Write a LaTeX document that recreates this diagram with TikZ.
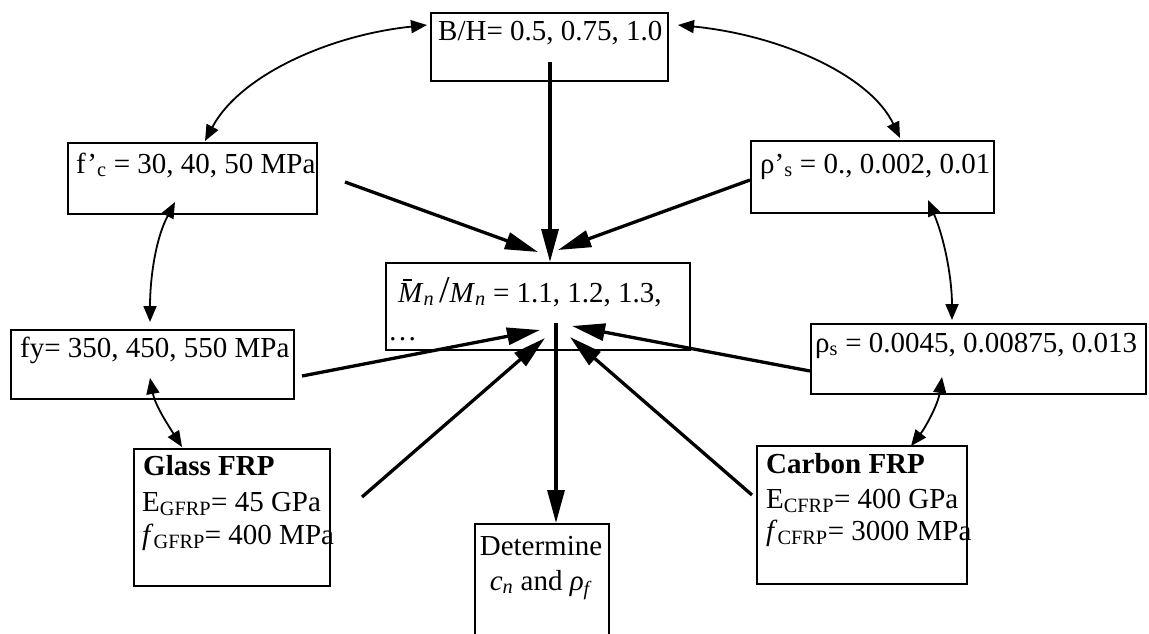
\documentclass[tikz,border=0pt]{standalone}
\usepackage{fontspec}
\setmainfont{Liberation Serif}
\usetikzlibrary{arrows.meta}
\newcommand{\barM}{\rlap{\hspace{5pt}\raisebox{21.5pt}{\rule{9pt}{1.3pt}}}\textit{M}}
\begin{document}
\begin{tikzpicture}[x=1pt,y=-1pt,
  box/.style={draw, line width=1.6pt, inner sep=0pt, anchor=north west},
  txt/.style={inner sep=0pt, anchor=base west, font=\fontsize{29}{34}\selectfont},
  ctxt/.style={inner sep=0pt, anchor=base, font=\fontsize{29}{34}\selectfont},
  thk/.style={line width=3.3pt, -{Triangle[length=33pt,width=17pt]}},
  dbl/.style={line width=1.8pt, {Triangle[length=16pt,width=13pt]}-{Triangle[length=16pt,width=13pt]}}
]
\clip (0,0) rectangle (1149,633);
\fill[white] (0,0) rectangle (1149,633);
% boxes
\node[box, minimum width=237pt, minimum height=68pt] (bh) at (430,12) {};
\node[box, minimum width=249pt, minimum height=71pt] (fc) at (67,142) {};
\node[box, minimum width=243pt, minimum height=72pt] (rps) at (750,140) {};
\node[box, minimum width=304pt, minimum height=87pt] (mn) at (385,262) {};
\node[box, minimum width=283pt, minimum height=69pt] (fy) at (10,329) {};
\node[box, minimum width=335pt, minimum height=70pt] (rs) at (810,323) {};
\node[box, minimum width=196pt, minimum height=137pt] (gl) at (133,448) {};
\node[box, minimum width=210pt, minimum height=138pt] (cb) at (756,445) {};
\node[box, minimum width=134pt, minimum height=140pt] (det) at (474,523) {};
% texts
\node[txt] (tbh) at (438,40) {B/H= 0.5, 0.75, 1.0};
\node[txt] (tfc) at (76,173) {f’\textsubscript{c} = 30, 40, 50 MPa};
\node[txt] (trps) at (760,173) {ρ’\textsubscript{s} = 0., 0.002, 0.01};
\node[txt] (tmn) at (398,302) {\barM\textsubscript{\textit{n}}\,{\fontsize{38}{38}\selectfont /}\textit{M}\textsubscript{\textit{n}} = 1.1, 1.2, 1.3,};
\node[txt] (tdots) at (388,340) {…};
\node[txt] (tfy) at (20,357) {fy= 350, 450, 550 MPa};
\node[txt] (trs) at (815,352) {ρ\textsubscript{s} = 0.0045, 0.00875, 0.013};
\node[txt] (tg1) at (143,475) {\textbf{Glass FRP}};
\node[txt] (tg2) at (142,511) {E\textsubscript{GFRP}= 45 GPa};
\node[txt] (tg3) at (142,544) {\textit{f}\textsubscript{GFRP}= 400 MPa};
\node[txt] (tc1) at (766,473) {\textbf{Carbon FRP}};
\node[txt] (tc2) at (766,508) {E\textsubscript{CFRP}= 400 GPa};
\node[txt] (tc3) at (766,540) {\textit{f}\textsubscript{CFRP}= 3000 MPa};
\node[ctxt] (td1) at (541,555) {Determine};
\node[ctxt] (td2) at (541,590) {\textit{c}\textsubscript{\textit{n}} and \textit{ρ}\textsubscript{\textit{f}}};
% connector ends
\coordinate (bhout) at (550,62);
\coordinate (fcout) at (345,182);
\coordinate (fcin) at (538,252);
\coordinate (rpsout) at (750,180);
\coordinate (rpsin) at (558,250);
\coordinate (fyout) at (302,376);
\coordinate (fyin) at (540,330);
\coordinate (rsout) at (810,371);
\coordinate (rsin) at (572,326);
\coordinate (glout) at (362,497);
\coordinate (glin) at (545,338);
\coordinate (cbout) at (752,495);
\coordinate (cbin) at (570,337);
\coordinate (mnout) at (556,323);
% straight arrows
\draw[thk] (bhout) -- (bhout |- mn.north);
\draw[thk] (fcout) -- (fcin);
\draw[thk] (rpsout) -- (rpsin);
\draw[thk] (fyout) -- (fyin);
\draw[thk] (rsout) -- (rsin);
\draw[thk] (glout) -- (glin);
\draw[thk] (cbout) -- (cbin);
\draw[thk] (mnout) -- (mnout |- det.north);
% curved double arrows
\coordinate (a1) at (205,141);
\coordinate (a2) at (427,25);
\draw[dbl] (a1) .. controls (240,75) and (330,35) .. (a2);
\coordinate (b1) at (678,25);
\coordinate (b2) at (900,138);
\draw[dbl] (b1) .. controls (780,35) and (870,75) .. (b2);
\coordinate (c1) at (175,202);
\coordinate (c2) at (150,322);
\draw[dbl] (c1) .. controls (155,240) and (150,280) .. (c2);
\coordinate (d1) at (150,378);
\coordinate (d2) at (182,447);
\draw[dbl] (d1) .. controls (155,405) and (168,425) .. (d2);
\coordinate (e1) at (928,200);
\coordinate (e2) at (952,320);
\draw[dbl] (e1) .. controls (945,240) and (952,280) .. (e2);
\coordinate (f1) at (942,377);
\coordinate (f2) at (911,446);
\draw[dbl] (f1) .. controls (938,405) and (925,428) .. (f2);
\end{tikzpicture}
\end{document}
